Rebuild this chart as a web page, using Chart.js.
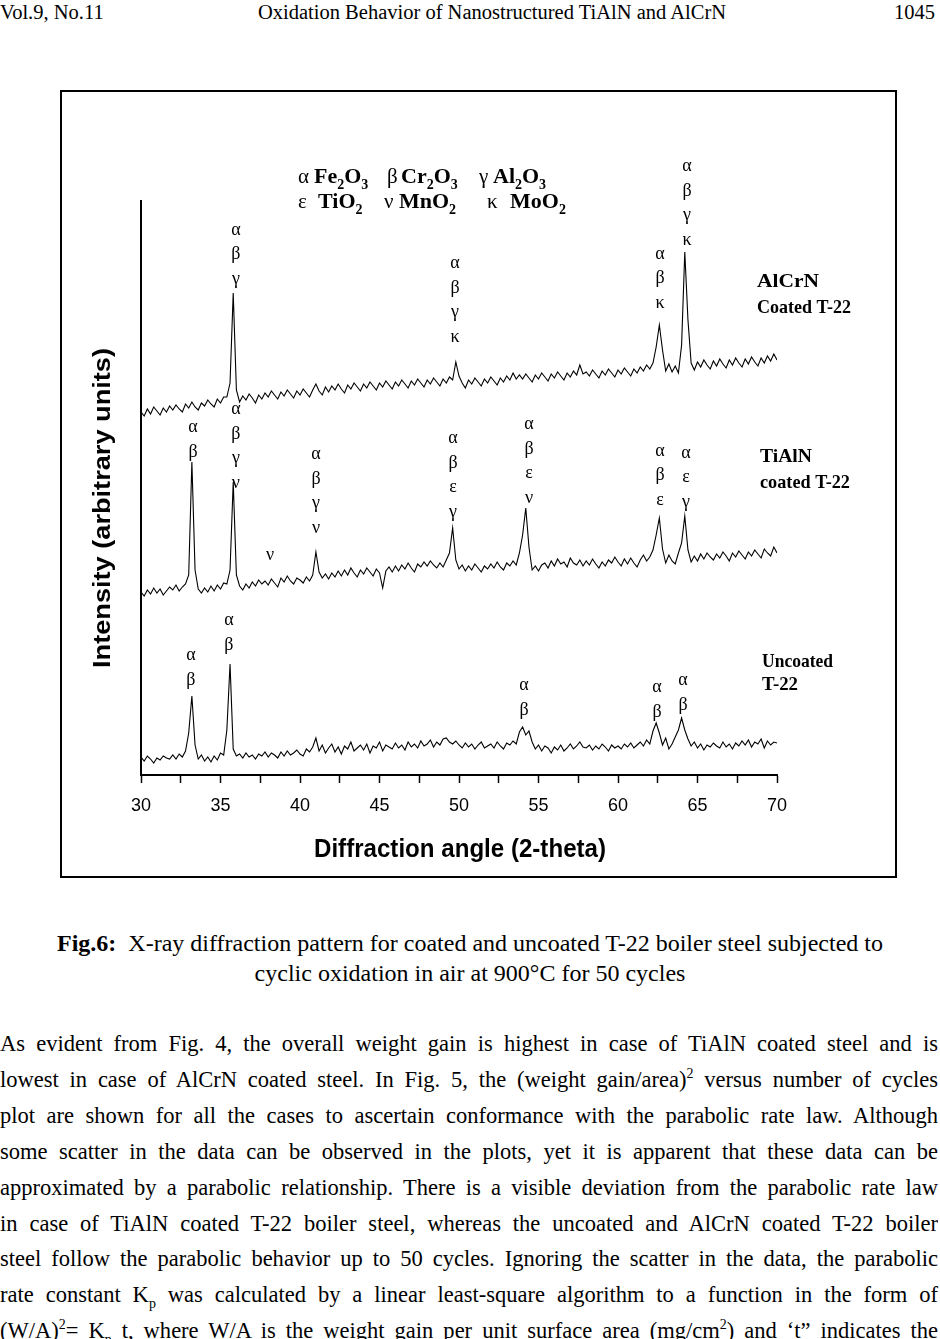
<!DOCTYPE html>
<html>
<head>
<meta charset="utf-8">
<script src="https://cdn.jsdelivr.net/npm/chart.js@4.4.1/dist/chart.umd.min.js"></script>
<style>
  body { margin: 0; background: #fff; }
  #page { position: relative; width: 940px; height: 1339px; overflow: hidden; font-family: "Liberation Serif", "Times New Roman", serif; color: #000; }
  #chartBox { position: absolute; left: 0; top: 0; width: 940px; height: 900px; }
  .hdr { position: absolute; top: 0; font-size: 20.5px; line-height: 24px; white-space: pre; }
  .cap { position: absolute; left: 0; width: 940px; text-align: center; font-size: 24px; line-height: 28px; white-space: pre; }
  .ln { position: absolute; left: 0; width: 1000px; font-size: 24px; line-height: 28px; text-align: justify; text-align-last: justify; white-space: nowrap; transform: scaleX(0.938); transform-origin: 0 0; }
  sup, sub { font-size: 0.62em; line-height: 0; }
</style>
</head>
<body>
<div id="page">
  <div class="hdr" style="left:0">Vol.9, No.11</div>
  <div class="hdr" style="left:258px">Oxidation Behavior of Nanostructured TiAlN and AlCrN</div>
  <div class="hdr" style="right:5px">1045</div>

  <div id="chartBox"><canvas id="xrdChart" width="940" height="900"></canvas></div>

  <div class="cap" style="top:929px"><b>Fig.6:</b>  X-ray diffraction pattern for coated and uncoated T-22 boiler steel subjected to</div>
  <div class="cap" style="top:959px">cyclic oxidation in air at 900°C for 50 cycles</div>

  <div class="ln" style="top:1029px">As evident from Fig. 4, the overall weight gain is highest in case of TiAlN coated steel and is</div>
  <div class="ln" style="top:1065px">lowest in case of AlCrN coated steel. In Fig. 5, the (weight gain/area)<sup>2</sup> versus number of cycles</div>
  <div class="ln" style="top:1101px">plot are shown for all the cases to ascertain conformance with the parabolic rate law. Although</div>
  <div class="ln" style="top:1137px">some scatter in the data can be observed in the plots, yet it is apparent that these data can be</div>
  <div class="ln" style="top:1173px">approximated by a parabolic relationship. There is a visible deviation from the parabolic rate law</div>
  <div class="ln" style="top:1209px">in case of TiAlN coated T-22 boiler steel, whereas the uncoated and AlCrN coated T-22 boiler</div>
  <div class="ln" style="top:1244px">steel follow the parabolic behavior up to 50 cycles. Ignoring the scatter in the data, the parabolic</div>
  <div class="ln" style="top:1280px">rate constant K<sub>p</sub> was calculated by a linear least-square algorithm to a function in the form of</div>
  <div class="ln" style="top:1316px">(W/A)<sup>2</sup>= K<sub>p</sub> t, where W/A is the weight gain per unit surface area (mg/cm<sup>2</sup>) and ‘t” indicates the</div>
</div>

<script>
// 2-theta scan: 30..70 deg, one reading every 0.2 deg
const angleStart = 30;
const angleStep = 0.2;
const xTickLabels = [30, 35, 40, 45, 50, 55, 60, 65, 70];

// intensities (arbitrary units, traces offset as in the figure)
const uncoated = [
  18,14,19,16,12,17,15,19,17,16,
  20,16,21,18,24,42,79,30,16,20,
  14,18,13,19,15,22,20,45,111,26,
  19,21,17,22,18,20,16,21,19,23,
  18,22,20,17,23,19,24,20,22,25,
  21,19,26,23,28,37,24,30,22,27,
  31,23,28,21,29,26,33,24,27,30,
  25,31,22,29,27,33,24,30,28,26,
  32,27,30,25,33,28,31,27,34,29,
  31,35,28,33,30,36,37,33,31,34,
  30,27,32,28,31,26,30,33,27,29,
  31,27,33,29,26,32,30,34,31,43,
  48,40,44,33,26,30,24,29,27,22,
  28,25,30,24,27,31,26,29,33,28,
  27,30,25,29,26,31,28,24,30,27,
  29,26,31,28,32,27,30,33,29,35,
  31,44,52,42,30,37,26,31,38,45,
  57,45,36,29,33,27,31,25,30,28,
  32,29,27,33,28,31,26,32,29,34,
  30,35,28,33,31,36,27,34,30,33,
  32
];
const tialn = [
  183,179,185,181,187,182,186,180,184,188,
  185,190,184,188,191,200,313,205,186,182,
  187,183,189,184,190,186,192,191,205,293,
  200,189,185,191,187,193,189,195,191,194,
  190,196,192,188,197,193,199,194,191,197,
  195,192,198,194,200,223,203,197,201,196,
  202,198,204,199,205,200,207,202,198,205,
  201,207,203,199,206,202,187,204,208,203,
  209,204,210,206,212,207,203,211,208,213,
  209,214,210,207,212,208,215,222,247,215,
  206,210,204,209,205,211,207,203,209,206,
  211,207,213,208,205,212,209,214,210,222,
  240,267,228,205,209,204,210,212,207,214,
  209,216,211,213,208,217,212,210,215,209,
  214,210,216,211,207,213,209,215,212,218,
  213,209,216,211,217,212,208,215,220,214,
  218,225,240,257,226,212,220,214,211,222,
  232,259,225,213,219,214,221,216,222,218,
  215,221,217,223,219,214,222,218,224,220,
  216,223,219,225,221,217,226,222,219,228,
  222
];
const alcrn = [
  363,359,366,361,368,364,360,367,363,369,
  365,370,366,363,371,367,373,368,365,372,
  369,375,371,368,376,372,378,378,392,482,
  385,373,379,375,381,377,372,380,376,382,
  378,384,380,376,383,379,385,381,377,384,
  380,386,382,378,385,391,384,380,388,383,
  389,385,391,386,382,390,386,392,388,384,
  391,387,393,389,385,392,388,394,390,386,
  393,389,395,391,387,394,390,396,392,388,
  395,391,397,393,389,396,392,398,395,413,
  399,392,387,395,391,397,393,389,396,392,
  398,394,390,397,393,399,395,402,396,400,
  396,401,397,393,400,396,402,398,394,401,
  397,403,399,395,402,398,404,400,410,401,
  403,399,405,401,397,404,400,406,402,398,
  405,401,407,403,399,406,402,408,404,410,
  406,412,428,450,425,404,411,403,409,402,
  430,523,455,412,405,413,408,415,410,406,
  414,409,416,411,407,415,410,417,412,408,
  416,411,418,413,409,417,412,419,414,421,
  415
];

// phase marks: angle of the peak, intensity level of the lowest letter, letters top to bottom
const phaseMarks = [
  { angle: 35.97, level: 496, letters: ['α','β','γ'] },
  { angle: 49.75, level: 438, letters: ['α','β','γ','κ'] },
  { angle: 62.64, level: 472, letters: ['α','β','κ'] },
  { angle: 64.34, level: 535, letters: ['α','β','γ','κ'] },
  { angle: 33.27, level: 323, letters: ['α','β'] },
  { angle: 35.97, level: 292, letters: ['α','β','γ','ν'] },
  { angle: 38.11, level: 220, letters: ['ν'] },
  { angle: 41.01, level: 247, letters: ['α','β','γ','ν'] },
  { angle: 49.62, level: 263, letters: ['α','β','ε','γ'] },
  { angle: 54.40, level: 277, letters: ['α','β','ε','ν'] },
  { angle: 62.64, level: 275, letters: ['α','β','ε'] },
  { angle: 64.28, level: 273, letters: ['α','ε','γ'] },
  { angle: 33.14, level: 95, letters: ['α','β'] },
  { angle: 35.53, level: 130, letters: ['α','β'] },
  { angle: 54.09, level: 65, letters: ['α','β'] },
  { angle: 62.45, level: 63, letters: ['α','β'] },
  { angle: 64.09, level: 70, letters: ['α','β'] }
];
const sampleNames = [
  { angle: 68.74, level: 488, text: 'AlCrN', width: 62 },
  { angle: 68.74, level: 462, text: 'Coated T-22', width: 94 },
  { angle: 68.93, level: 313, text: 'TiAlN', width: 52 },
  { angle: 68.93, level: 287, text: 'coated T-22', width: 90 },
  { angle: 69.06, level: 108, text: 'Uncoated', width: 71 },
  { angle: 69.06, level: 85, text: 'T-22', width: 36 }
];

const angles = uncoated.map((_, i) => +(angleStart + i * angleStep).toFixed(1));
const toPoints = arr => arr.map((v, i) => ({ x: angles[i], y: v }));

function fitText(ctx, text, x, y, w) {
  const m = ctx.measureText(text).width;
  ctx.save();
  ctx.translate(x, y);
  ctx.scale(w / m, 1);
  ctx.fillText(text, 0, 0);
  ctx.restore();
}

// formula with subscripts, e.g. [['Fe',0],['2',1],['O',0],['3',1]]
function drawFormula(ctx, parts, x, y) {
  let cx = x;
  parts.forEach(([t, sub]) => {
    ctx.font = sub ? 'bold 14px "Liberation Serif"' : 'bold 22px "Liberation Serif"';
    ctx.fillText(t, cx, sub ? y + 6 : y);
    cx += ctx.measureText(t).width;
  });
}

const decorations = {
  id: 'decorations',
  afterDraw(chart) {
    const ctx = chart.ctx;
    const xs = chart.scales.x, ys = chart.scales.y;
    const area = chart.chartArea;
    ctx.save();
    ctx.fillStyle = '#000';
    ctx.strokeStyle = '#000';

    // outer frame
    ctx.lineWidth = 2;
    ctx.strokeRect(61, 91, 835, 786);

    // y axis line
    ctx.beginPath();
    ctx.moveTo(area.left, area.top);
    ctx.lineTo(area.left, area.bottom + 1);
    ctx.stroke();

    // axis titles
    ctx.textAlign = 'left';
    ctx.textBaseline = 'middle';
    ctx.font = 'bold 25px "Liberation Sans"';
    let w = 292;
    fitText(ctx, 'Diffraction angle (2-theta)', 460 - w / 2, 850, w);
    ctx.save();
    ctx.translate(103, 508);
    ctx.rotate(-Math.PI / 2);
    ctx.font = 'bold 24px "Liberation Sans"';
    w = 320;
    fitText(ctx, 'Intensity (arbitrary units)', -w / 2, 0, w);
    ctx.restore();

    // phase legend
    ctx.textBaseline = 'alphabetic';
    [['α', 298, 183], ['β', 387, 183], ['γ', 479, 183], ['ε', 298, 208], ['ν', 384, 208], ['κ', 487, 208]]
      .forEach(([g, x, y]) => { ctx.font = '21px "Liberation Serif"'; ctx.fillText(g, x, y); });
    drawFormula(ctx, [['Fe',0],['2',1],['O',0],['3',1]], 314, 183);
    drawFormula(ctx, [['Cr',0],['2',1],['O',0],['3',1]], 401, 183);
    drawFormula(ctx, [['Al',0],['2',1],['O',0],['3',1]], 493, 183);
    drawFormula(ctx, [['TiO',0],['2',1]], 318, 208);
    drawFormula(ctx, [['MnO',0],['2',1]], 399, 208);
    drawFormula(ctx, [['MoO',0],['2',1]], 510, 208);

    // peak phase letters
    ctx.textAlign = 'center';
    ctx.textBaseline = 'middle';
    ctx.font = '18px "Liberation Serif"';
    phaseMarks.forEach(m => {
      const px = xs.getPixelForValue(m.angle);
      const bottom = ys.getPixelForValue(m.level);
      const n = m.letters.length;
      m.letters.forEach((l, k) => {
        ctx.fillText(l, px, bottom - (n - 1 - k) * 24.5);
      });
    });

    // sample names
    ctx.textAlign = 'left';
    ctx.textBaseline = 'alphabetic';
    ctx.font = 'bold 19px "Liberation Serif"';
    sampleNames.forEach(s => {
      fitText(ctx, s.text, xs.getPixelForValue(s.angle), ys.getPixelForValue(s.level), s.width);
    });
    ctx.restore();
  }
};

const lineStyle = { borderColor: '#000', borderWidth: 1.1, pointRadius: 0, fill: false, tension: 0 };

new Chart(document.getElementById('xrdChart'), {
  type: 'line',
  data: {
    datasets: [
      Object.assign({ label: 'AlCrN coated T-22', data: toPoints(alcrn) }, lineStyle),
      Object.assign({ label: 'TiAlN coated T-22', data: toPoints(tialn) }, lineStyle),
      Object.assign({ label: 'Uncoated T-22', data: toPoints(uncoated) }, lineStyle)
    ]
  },
  options: {
    responsive: false,
    animation: false,
    layout: { padding: { left: 141, right: 163, top: 200, bottom: 85 } },
    plugins: { legend: { display: false }, tooltip: { enabled: false } },
    scales: {
      x: {
        type: 'linear',
        min: 30,
        max: 70,
        afterFit: scale => { scale.height = 40; },
        ticks: {
          stepSize: 2.5,
          autoSkip: false,
          maxRotation: 0,
          padding: 12,
          color: '#000',
          font: { family: 'Liberation Sans', size: 18 },
          callback: v => xTickLabels.includes(v) ? String(v) : ''
        },
        grid: { drawOnChartArea: false, drawTicks: true, tickLength: 8, tickColor: '#000', tickWidth: 1.5 },
        border: { display: true, color: '#000', width: 2 }
      },
      y: {
        display: false,
        min: 0,
        max: 575
      }
    }
  },
  plugins: [decorations]
});
</script>
</body>
</html>
